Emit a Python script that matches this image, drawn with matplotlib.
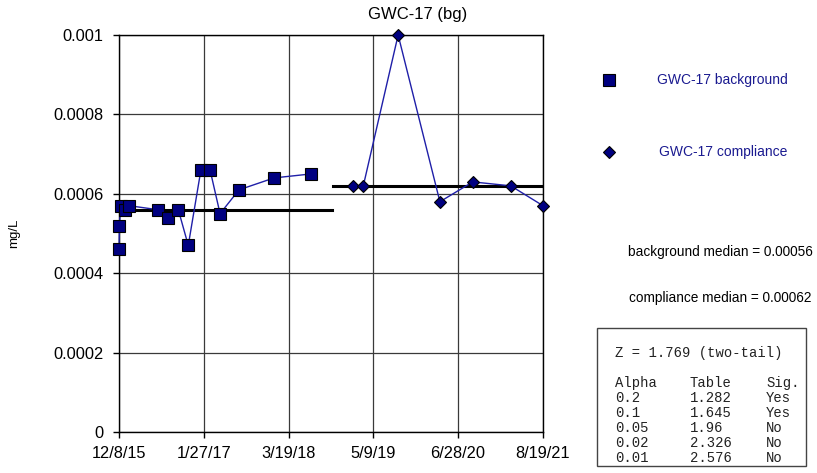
import matplotlib
matplotlib.use("Agg")
import matplotlib.pyplot as plt
import numpy as np
import pandas as pd

plt.rcParams['font.family'] = ['Liberation Sans', 'DejaVu Sans']

# background samples
bg_dates = pd.to_datetime(["2015-12-08", "2015-12-10", "2015-12-16", "2016-01-06", "2016-01-27",
                           "2016-06-15", "2016-08-06", "2016-09-24", "2016-11-12", "2017-01-13",
                           "2017-02-27", "2017-04-17", "2017-07-19", "2018-01-07", "2018-07-07"])
bg_vals = [0.00046, 0.00052, 0.00057, 0.00056, 0.00057,
           0.00056, 0.00054, 0.00056, 0.00047, 0.00066,
           0.00066, 0.00055, 0.00061, 0.00064, 0.00065]

# compliance samples
cp_dates = pd.to_datetime(["2019-01-28", "2019-03-21", "2019-09-08", "2020-03-31",
                           "2020-09-08", "2021-03-14", "2021-08-19"])
cp_vals = [0.00062, 0.00062, 0.001, 0.00058, 0.00063, 0.00062, 0.00057]

bg_median = 0.00056
cp_median = 0.00062
bg_median_span = pd.to_datetime(["2015-12-08", "2018-10-18"])
cp_median_span = pd.to_datetime(["2018-10-23", "2021-08-19"])

tick_labels = ["12/8/15", "1/27/17", "3/19/18", "5/9/19", "6/28/20", "8/19/21"]
tick_dates = pd.to_datetime(tick_labels, format="%m/%d/%y")

alphas = ["0.2", "0.1", "0.05", "0.02", "0.01"]
table_vals = ["1.282", "1.645", "1.96", "2.326", "2.576"]
sig = ["Yes", "Yes", "No", "No", "No"]
z_text = "Z = 1.769 (two-tail)"

navy = "#000080"
line_c = "#1f1fa8"

fig = plt.figure(figsize=(8.17, 4.73), dpi=100)
ax = fig.add_axes([119/817, 41/473, 424/817, 397/473])

ax.plot(bg_dates, bg_vals, color=line_c, lw=1, marker="s", ms=8,
        mfc=navy, mec="black", mew=0.8, zorder=4, clip_on=False)
ax.plot(cp_dates, cp_vals, color=line_c, lw=1, marker="D", ms=6,
        mfc=navy, mec="black", mew=0.8, zorder=4, clip_on=False)
ax.plot(bg_median_span, [bg_median, bg_median], color="black", lw=2.2, zorder=3)
ax.plot(cp_median_span, [cp_median, cp_median], color="black", lw=2.2, zorder=3)

ax.set_xlim(tick_dates[0], tick_dates[-1])
ax.set_ylim(0, 0.001)
ax.set_xticks(tick_dates)
ax.set_xticklabels(tick_labels, fontsize=11.8)
ax.set_yticks(np.arange(0, 0.0011, 0.0002))
ax.set_yticklabels(["0", "0.0002", "0.0004", "0.0006", "0.0008", "0.001"], fontsize=11.8)
ax.tick_params(direction="out", length=4, width=1, color="black")
ax.tick_params(axis="y", pad=7)
ax.tick_params(axis="x", pad=6)
ax.grid(True, color="#3a3a3a", lw=0.9)
ax.set_axisbelow(True)
for s in ax.spines.values():
    s.set_color("black")
    s.set_linewidth(1)

fig.text(14/817, 1 - 233/473, "mg/L", fontsize=9.5, rotation=90, ha="center", va="center")
fig.text(418/817, 1 - 14/473, "GWC-17 (bg)", ha="center", va="center", fontsize=12)

# legend
fig.lines.append(plt.Line2D([609/817], [1 - 80/473], marker="s", ms=8, mfc=navy,
                            mec="black", mew=0.8, transform=fig.transFigure))
fig.lines.append(plt.Line2D([609/817], [1 - 152/473], marker="D", ms=6, mfc=navy,
                            mec="black", mew=0.8, transform=fig.transFigure))
fig.text(657/817, 1 - 80/473, "GWC-17 background", color="#1a1a90", fontsize=10, va="center")
fig.text(659/817, 1 - 152/473, "GWC-17 compliance", color="#1a1a90", fontsize=10, va="center")
fig.text(628/817, 1 - 252/473, "background median = 0.00056", fontsize=9.8, va="center")
fig.text(629/817, 1 - 298/473, "compliance median = 0.00062", fontsize=9.8, va="center")

# stats box
box = plt.Rectangle((597/817, 1 - 466/473), 209/817, 138/473, transform=fig.transFigure,
                    fill=False, ec="#444444", lw=1)
fig.patches.append(box)
mono = dict(family="Liberation Mono", fontsize=10, va="center", color="#222222")
fig.text(615/817, 1 - 353/473, z_text, **mono)
fig.text(615/817, 1 - 383/473, "Alpha", **mono)
fig.text(690/817, 1 - 383/473, "Table", **mono)
fig.text(766/817, 1 - 383/473, "Sig.", **mono)
for i in range(len(alphas)):
    y = 1 - (398 + 15 * i) / 473
    fig.text(615/817, y, alphas[i], **mono)
    fig.text(690/817, y, table_vals[i], **mono)
    fig.text(766/817, y, sig[i], **mono)

fig.savefig("out.png", dpi=100)
